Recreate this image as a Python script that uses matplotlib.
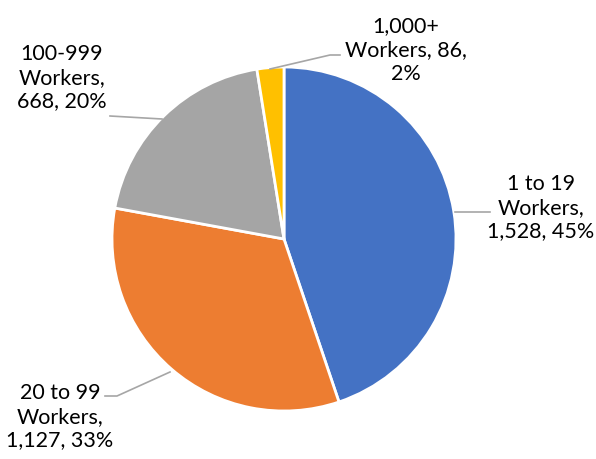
import matplotlib.pyplot as plt
import numpy as np

plt.rcParams['font.family'] = ['Lato', 'DejaVu Sans']

categories = ['1 to 19', '20 to 99', '100-999', '1,000+']
counts = [1528, 1127, 668, 86]
percents = [45, 33, 20, 2]
colors = ['#4472C4', '#ED7D31', '#A5A5A5', '#FFC000']

fig = plt.figure(figsize=(5.96, 4.60), dpi=100)
ax = fig.add_axes([0, 0, 1, 1])

cx, cy, r = 284, 220, 172
wedges, _ = ax.pie(counts, colors=colors, startangle=90, counterclock=False,
                   center=(cx, cy), radius=r, frame=True,
                   wedgeprops=dict(edgecolor='white', linewidth=2))
ax.set_xlim(0, 596)
ax.set_ylim(0, 460)
ax.axis('off')

labels = []
for c, n, p in zip(categories, counts, percents):
    if n < 100:
        labels.append('{}\nWorkers, {:,},\n{}%'.format(c, n, p))
    else:
        labels.append('{}\nWorkers,\n{:,}, {}%'.format(c, n, p))

# label centres and leader line points (x, y from bottom)
text_pos = [(541, 252), (60, 43), (62, 382), (406, 410)]
leaders = [
    [(455, 247), (490, 247)],
    [(170, 87), (117, 63), (105, 63)],
    [(162, 340), (110, 343)],
    [(270, 390), (330, 404), (340, 404)],
]

for lab, (tx, ty), pts in zip(labels, text_pos, leaders):
    ax.text(tx, ty, lab, ha='center', va='center', fontsize=15.5,
            linespacing=1.22, color='#000000')
    xs, ys = zip(*pts)
    ax.plot(xs, ys, color='#A6A6A6', linewidth=1.2)

fig.savefig('out.png', dpi=100)
